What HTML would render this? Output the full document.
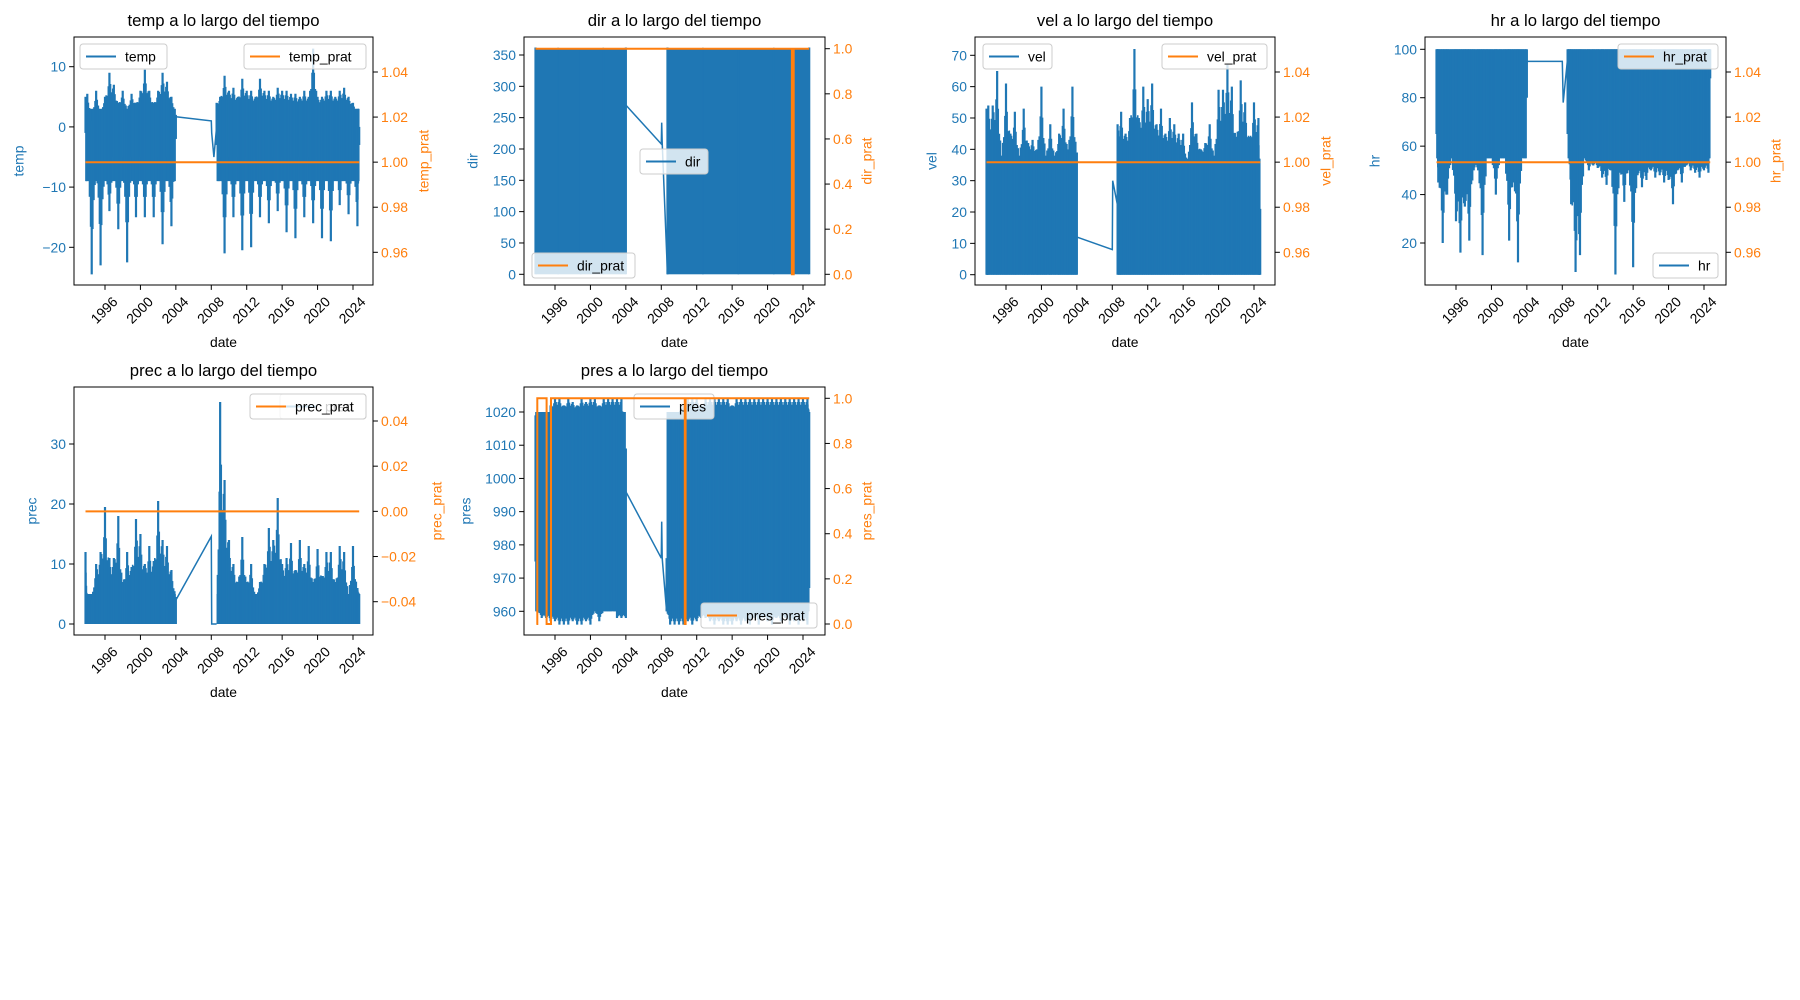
<!DOCTYPE html>
<html><head><meta charset="utf-8"><style>
html,body{margin:0;padding:0;background:#fff;}
svg{display:block;font-family:"Liberation Sans","DejaVu Sans",sans-serif;}
</style></head><body>
<svg id="fig" width="1800" height="1000" viewBox="0 0 1800 1000" xmlns="http://www.w3.org/2000/svg"></svg>
<script>
// ---- data ----
const xTickYears = [1996, 2000, 2004, 2008, 2012, 2016, 2020, 2024];
const T1 = [1993.8,1994,1994.5,1995,1995.5,1996,1996.5,1997,1997.5,1998,1998.5,1999,1999.5,2000,2000.5,2001,2001.5,2002,2002.5,2003,2003.5,2004];
const T2 = [2008.6,2009,2009.5,2010,2010.5,2011,2011.5,2012,2012.5,2013,2013.5,2014,2014.5,2015,2015.5,2016,2016.5,2017,2017.5,2018,2018.5,2019,2019.5,2020,2020.5,2021,2021.5,2022,2022.5,2023,2023.5,2024,2024.5,2024.7];

const tempCore = [-9, 3];
const tempHi1 = [5,5.5,1,6,2,5,9,7,4,6,3,5.5,4,6,9.5,6,4,6,9,7.5,5,2];
const tempLo1 = [-1,-3,-24.5,-5,-23,-6,-14,-5,-17,-5,-22.5,-5,-15,-5,-15,-5,-15,-5,-19.5,-5,-16.5,-2];
const tempHi2 = [4,5,8.5,6,6.5,5,8,6,6,5,8,6,6,5,6.5,6,6,5.5,5.5,5,6,5,13,5,5,6,6,5,6,6.5,5,4,2,0];
const tempLo2 = [-3,-5,-21,-5,-15,-5,-20.5,-5,-20,-5,-15,-5,-16,-5,-14,-5,-17.5,-5,-18.5,-5,-15,-5,-16,-5,-18.5,-5,-19,-5,-13,-5,-14.5,-5,-16.5,-3];
const tempGapT = [2004,2008,2008.05,2008.3,2008.6];
const tempGapV = [1.7,1.0,-1,-5,0];
const tempPratT = [1993.8,2024.7];
const tempPratV = [1,1];

const dirCore = [0, 360];
const dirT1 = [1993.8,2004.0];
const dirHi1 = [362,362];
const dirLo1 = [0,0];
const dirT2 = [2008.7,2024.7];
const dirHi2 = [362,362];
const dirLo2 = [0,0];
const dirGapT = [2004,2008,2008.05,2008.1,2008.7];
const dirGapV = [270,208,242,210,0];
const dirPratT = [1993.8,2022.75,2022.75,2022.95,2022.95,2024.7];
const dirPratV = [1,1,0,0,1,1];

const velCore = [0, 37];
const velHi1 = [53,54,54,65,38,61,45,52,38,53,42,43,40,60,38,48,38,45,53,40,60,39];
const velLo1 = [0,0,0,0,0,0,0,0,0,0,0,0,0,0,0,0,0,0,0,0,0,0];
const velHi2 = [48,52,45,50,72,50,60,56,61,48,53,45,50,48,45,45,35,55,45,40,42,48,38,59,59,67,60,44,62,55,44,55,50,21];
const velLo2 = [0,0,0,0,0,0,0,0,0,0,0,0,0,0,0,0,0,0,0,0,0,0,0,0,0,0,0,0,0,0,0,0,0,0];
const velGapT = [2004,2008,2008.05,2008.6];
const velGapV = [12,8,30,22];
const velPratT = [1993.8,2024.7];
const velPratV = [1,1];

const hrCore = [55, 100];
const hrHi1 = [100,100,100,100,100,100,100,100,100,100,100,100,100,100,100,100,100,100,100,100,100,100];
const hrLo1 = [65,45,20,40,55,29,16,35,21,50,50,15,55,55,40,55,55,21,45,12,60,80];
const hrHi2 = [100,100,100,100,100,100,100,100,100,100,100,100,100,100,100,100,100,100,100,100,100,100,100,100,100,100,100,100,100,100,100,100,100,100];
const hrLo2 = [65,36,8,15,55,50,52,51,47,44,50,7,49,37,50,10,48,43,46,50,47,48,45,46,36,50,45,52,50,49,47,50,49,88];
const hrGapT = [2004,2008,2008.1,2008.7];
const hrGapV = [95,95,78,100];
const hrPratT = [1993.8,2024.7];
const hrPratV = [1,1];

const precCore = [0, 5];
const precHi1 = [12,3,4,10,12,19.5,11,11,18,7,12,9.5,17.5,15,10,13,10.5,20.5,14,13,9,4.5];
const precLo1 = [0,0,0,0,0,0,0,0,0,0,0,0,0,0,0,0,0,0,0,0,0,0];
const precHi2 = [0,37,24,14,10,7,14.5,7,10,4,7,10,16,14,21,10,11,13.5,9,14,10,13,7,12.5,8,12,12,7,13,12,5,13,6,5];
const precLo2 = [0,0,0,0,0,0,0,0,0,0,0,0,0,0,0,0,0,0,0,0,0,0,0,0,0,0,0,0,0,0,0,0,0,0];
const precGapT = [2004,2008,2008.05,2008.6];
const precGapV = [4,14.6,0,0];
const precPratT = [1993.8,2024.7];
const precPratV = [0,0];

const presCore = [960, 1020];
const presHi1 = [1019,1020,1013,1013,1022,1024,1024,1022,1024,1023,1022,1024,1023,1024,1024,1022,1024,1024,1024,1024,1024,1009];
const presLo1 = [975,960,958,958,957,957,956,956,956,957,956,956,957,956,960,957,960,960,966,958,958,958];
const presHi2 = [976,1000,1015,1020,1022,1024,1024,1024,1022,1024,1024,1024,1024,1024,1024,1022,1024,1024,1024,1024,1024,1024,1024,1024,1024,1024,1024,1024,1024,1024,1024,1024,1024,1020];
const presLo2 = [960,956,956,956,956,957,956,957,958,958,957,956,957,956,956,956,957,956,957,956,958,956,958,957,956,958,957,958,956,957,956,957,956,967];
const presGapT = [2004,2008,2008.05,2008.1,2008.6];
const presGapV = [996,976,987,976,960];
const presPratT = [1993.9,1994.0,1994.0,1995.05,1995.05,1995.55,1995.55,2010.65,2010.65,2010.75,2010.75,2024.7];
const presPratV = [0,0,1,1,0,0,1,1,0,0,1,1];

const leftTicks = {
  temp:[10,0,-10,-20], dir:[0,50,100,150,200,250,300,350], vel:[0,10,20,30,40,50,60,70],
  hr:[20,40,60,80,100], prec:[0,10,20,30], pres:[960,970,980,990,1000,1010,1020]
};
const rightTicksA = [0.96,0.98,1.00,1.02,1.04];
const rightTicksB = [0.0,0.2,0.4,0.6,0.8,1.0];
const rightTicksC = [-0.04,-0.02,0.00,0.02,0.04];

const BLUE = '#1f77b4', ORANGE = '#ff7f0e';
const NS = 'http://www.w3.org/2000/svg';
const svg = document.getElementById('fig');

function mk(tag, attrs, parent){
  const e = document.createElementNS(NS, tag);
  for (const k in attrs) e.setAttribute(k, attrs[k]);
  (parent||svg).appendChild(e);
  return e;
}
function fmtR(v, dec){ const s = v.toFixed(dec); return s.replace('-', '\u2212'); }
function fmtL(v){ return String(v).replace('-', '\u2212'); }

function chart(c){
  const g = mk('g', {});
  
  
  const L=c.L, R=c.R, T=c.T, B=c.B;
  const X = yr => (L+31) + (yr-1996)*8.857;
  const Y = v => c.ly0 + (v - c.lv0) * (c.ly1 - c.ly0) / (c.lv1 - c.lv0);
  const Y2 = v => c.ry0 + (v - c.rv0) * (c.ry1 - c.ry0) / (c.rv1 - c.rv0);
  const clip = 'clip-' + c.key;
  const cp = mk('clipPath', {id: clip}, g);
  mk('rect', {x:L, y:T, width:R-L, height:B-T}, cp);

  const t = mk('text', {x:(L+R)/2, y:T-11, 'text-anchor':'middle', 'font-size':'16.7', fill:'#000'}, g);
  t.textContent = c.key + ' a lo largo del tiempo';
  
  

  const dg = mk('g', {'clip-path':'url(#'+clip+')'}, g);
  
  
  c.segs.forEach(s => {
    const x0 = X(s.t[0]), x1 = X(s.t[s.t.length-1]);
    const yA = Y(c.core[1]), yB = Y(c.core[0]);
    const core = mk('rect', {x:x0, y:Math.min(yA,yB), width:x1-x0, height:Math.abs(yB-yA), fill:BLUE}, dg);
    
    
    const n = s.t.length;
    for (let i=0;i<n;i++){
      const x = X(s.t[i]);
      const sp = mk('line', {x1:x, y1:Y(s.lo[i]), x2:x, y2:Y(s.hi[i]), stroke:BLUE, 'stroke-width':2.2}, dg);
      
      
      if (i < n-1){
        const xn = X(s.t[i+1]);
        [0.25,0.5,0.75].forEach((f,k) => {
          const xm = x + (xn-x)*f;
          const w = k===1 ? 0.55 : 0.75;
          const hm = Math.max(c.core[1], c.core[1] + ((s.hi[i]*(1-f)+s.hi[i+1]*f) - c.core[1])*w);
          const lm = Math.min(c.core[0], c.core[0] + ((s.lo[i]*(1-f)+s.lo[i+1]*f) - c.core[0])*w);
          mk('line', {x1:xm, y1:Y(lm), x2:xm, y2:Y(hm), stroke:BLUE, 'stroke-width':1.6}, dg);
        });
      }
    }
  });
  const gp = mk('polyline', {points:c.gapT.map((tt,i)=>X(tt).toFixed(1)+','+Y(c.gapV[i]).toFixed(1)).join(' '), fill:'none', stroke:BLUE, 'stroke-width':1.5}, dg);
  
  

  const fr = mk('rect', {x:L, y:T, width:R-L, height:B-T, fill:'none', stroke:'#000', 'stroke-width':1}, g);
  
  

  xTickYears.forEach(yr => {
    const x = X(yr);
    mk('line', {x1:x, y1:B, x2:x, y2:B+4.9, stroke:'#000', 'stroke-width':1}, g);
    const tl = mk('text', {x:x, y:B+26, 'text-anchor':'middle', 'dominant-baseline':'middle', 'font-size':'13.9', fill:'#000', transform:'rotate(-45 '+x+' '+(B+26)+')'}, g);
    tl.textContent = yr;
    
    
  });
  const xl = mk('text', {x:(L+R)/2, y:B+62, 'text-anchor':'middle', 'font-size':'13.9', fill:'#000'}, g);
  xl.textContent = 'date';
  
  

  c.lt.forEach(v => {
    const y = Y(v);
    mk('line', {x1:L-4.9, y1:y, x2:L, y2:y, stroke:'#000', 'stroke-width':1}, g);
    const tl = mk('text', {x:L-8, y:y+5, 'text-anchor':'end', 'font-size':'13.9', fill:BLUE}, g);
    tl.textContent = fmtL(v);
    
    
  });
  const yl = mk('text', {x:c.lx, y:(T+B)/2, 'text-anchor':'middle', 'dominant-baseline':'middle', 'font-size':'13.9', fill:BLUE, transform:'rotate(-90 '+c.lx+' '+(T+B)/2+')'}, g);
  yl.textContent = c.key;
  
  

  c.rt.forEach(v => {
    const y = Y2(v);
    mk('line', {x1:R, y1:y, x2:R+4.9, y2:y, stroke:'#000', 'stroke-width':1}, g);
    const tl = mk('text', {x:R+8, y:y+5, 'text-anchor':'start', 'font-size':'13.9', fill:ORANGE}, g);
    tl.textContent = fmtR(v, c.rdec);
    
    
  });
  const rl = mk('text', {x:c.rx, y:(T+B)/2, 'text-anchor':'middle', 'dominant-baseline':'middle', 'font-size':'13.9', fill:ORANGE, transform:'rotate(-90 '+c.rx+' '+(T+B)/2+')'}, g);
  rl.textContent = c.key + '_prat';
  
  

  legend(g, c.lg1, c.key, BLUE);
  const og = mk('g', {'clip-path':'url(#'+clip+')'}, g);
  const op = mk('polyline', {points:c.pT.map((tt,i)=>X(tt).toFixed(1)+','+Y2(c.pV[i]).toFixed(1)).join(' '), fill:'none', stroke:ORANGE, 'stroke-width':2}, og);
  
  
  legend(g, c.lg2, c.key + '_prat', ORANGE);
}

function legend(g, b, label, color){
  if (!b) return;
  const lg = mk('g', {}, g);
  
  
  mk('rect', {x:b[0], y:b[1], width:b[2], height:25, rx:3, fill:'#fff', 'fill-opacity':0.8, stroke:'#ccc', 'stroke-width':1}, lg);
  mk('line', {x1:b[0]+6, y1:b[1]+12.5, x2:b[0]+36, y2:b[1]+12.5, stroke:color, 'stroke-width':2}, lg);
  const tx = mk('text', {x:b[0]+45, y:b[1]+17.5, 'font-size':'13.9', fill:'#000'}, lg);
  tx.textContent = label;
}

const charts = [
  {key:'temp', L:74, R:373, T:37, B:285, lv0:10, ly0:66.7, lv1:-20, ly1:247.3, rv0:1.04, ry0:72, rv1:0.96, ry1:252.3, core:tempCore,
   segs:[{t:T1,hi:tempHi1,lo:tempLo1},{t:T2,hi:tempHi2,lo:tempLo2}], gapT:tempGapT, gapV:tempGapV, pT:tempPratT, pV:tempPratV,
   lt:leftTicks.temp, rt:rightTicksA, rdec:2, lx:20, rx:425, lg1:[80,44,87], lg2:[244,44,122]},
  {key:'dir', L:524, R:825, T:37, B:285, lv0:0, ly0:274.3, lv1:350, ly1:55, rv0:0, ry0:274.3, rv1:1, ry1:48.7, core:dirCore,
   segs:[{t:dirT1,hi:dirHi1,lo:dirLo1},{t:dirT2,hi:dirHi2,lo:dirLo2}], gapT:dirGapT, gapV:dirGapV, pT:dirPratT, pV:dirPratV,
   lt:leftTicks.dir, rt:rightTicksB, rdec:1, lx:474, rx:868, lg1:[640,149,68], lg2:[532,253,103]},
  {key:'vel', L:975, R:1275, T:37, B:285, lv0:0, ly0:274.7, lv1:70, ly1:55.3, rv0:1.04, ry0:72, rv1:0.96, ry1:252.3, core:velCore,
   segs:[{t:T1,hi:velHi1,lo:velLo1},{t:T2,hi:velHi2,lo:velLo2}], gapT:velGapT, gapV:velGapV, pT:velPratT, pV:velPratV,
   lt:leftTicks.vel, rt:rightTicksA, rdec:2, lx:933, rx:1327, lg1:[983,44,69], lg2:[1162,44,105]},
  {key:'hr', L:1425, R:1726, T:37, B:285, lv0:100, ly0:49.3, lv1:20, ly1:243, rv0:1.04, ry0:72, rv1:0.96, ry1:252.3, core:hrCore,
   segs:[{t:T1,hi:hrHi1,lo:hrLo1},{t:T2,hi:hrHi2,lo:hrLo2}], gapT:hrGapT, gapV:hrGapV, pT:hrPratT, pV:hrPratV,
   lt:leftTicks.hr, rt:rightTicksA, rdec:2, lx:1376, rx:1777, lg1:[1653,253,65], lg2:[1618,44,100]},
  {key:'prec', L:74, R:373, T:387, B:635, lv0:0, ly0:624, lv1:30, ly1:444, rv0:0.04, ry0:421, rv1:-0.04, ry1:601.7, core:precCore,
   segs:[{t:T1,hi:precHi1,lo:precLo1},{t:T2,hi:precHi2,lo:precLo2}], gapT:precGapT, gapV:precGapV, pT:precPratT, pV:precPratV,
   lt:leftTicks.prec, rt:rightTicksC, rdec:2, lx:33, rx:438, lg1:[280,394,86], lg2:[250,394,116]},
  {key:'pres', L:524, R:825, T:387, B:635, lv0:1020, ly0:412, lv1:960, ly1:611.3, rv0:1, ry0:398.3, rv1:0, ry1:624, core:presCore,
   segs:[{t:T1,hi:presHi1,lo:presLo1},{t:T2,hi:presHi2,lo:presLo2}], gapT:presGapT, gapV:presGapV, pT:presPratT, pV:presPratV,
   lt:leftTicks.pres, rt:rightTicksB, rdec:1, lx:467, rx:868, lg1:[634,394,80], lg2:[701,603,116]}
];
charts.forEach(chart);
</script>
</body></html>
